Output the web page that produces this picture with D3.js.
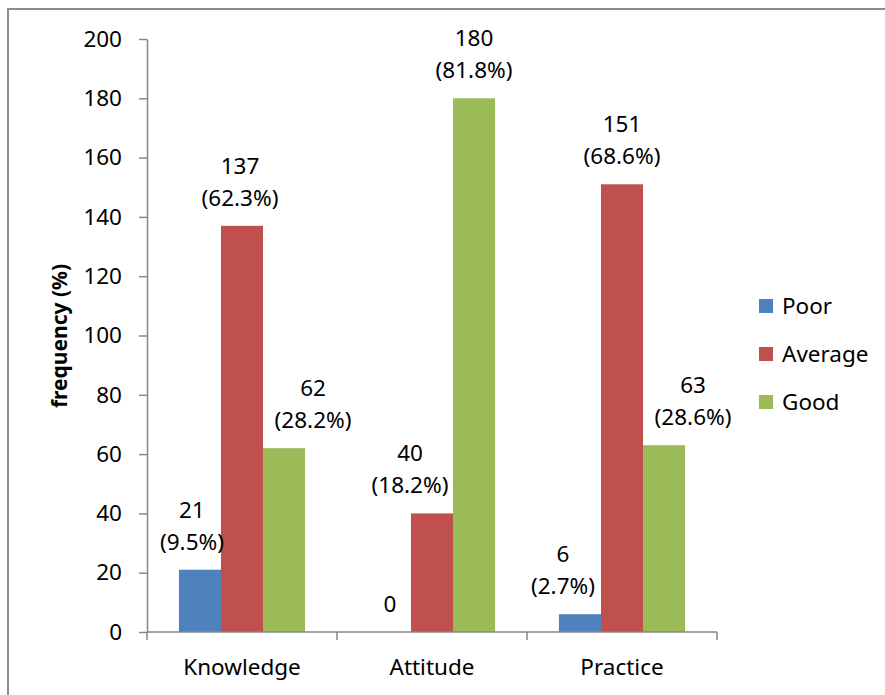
<!DOCTYPE html>
<html>
<head>
<meta charset="utf-8">
<script src="https://cdn.jsdelivr.net/npm/d3@7"></script>
<style>
  body { margin: 0; background: #fff; }
  text { font-family: "Noto Sans", "Open Sans", sans-serif; }
</style>
</head>
<body>
<div id="viz"></div>
<script>
const categories = ["Knowledge", "Attitude", "Practice"]
const series = ["Poor", "Average", "Good"]
const poor = [21, 0, 6]
const average = [137, 40, 151]
const good = [62, 180, 63]
const poorPct = ["9.5%", "", "2.7%"]
const averagePct = ["62.3%", "18.2%", "68.6%"]
const goodPct = ["28.2%", "81.8%", "28.6%"]
const yTicks = [0, 20, 40, 60, 80, 100, 120, 140, 160, 180, 200]

const colors = ["#4f81bd", "#c0504d", "#9bbb59"]
const values = [poor, average, good]
const pcts = [poorPct, averagePct, goodPct]
// horizontal nudges of the data labels (as placed in the original), per series
const labelDx = [[-8, 0, -17], [-2, -22, 0], [29, 0, 29]]
const fs = 22.5

const svg = d3.select("#viz").append("svg").attr("width", 885).attr("height", 695)

// outer frame (only top and left visible)
svg.append("path")
  .attr("d", "M8,700 L8,9 L890,9")
  .attr("fill", "none")
  .attr("stroke", "#8c8c8c")
  .attr("stroke-width", 2)

const x0 = d3.scaleBand().domain(categories).range([147, 717])
const x1 = d3.scaleBand().domain(series).range([0, x0.bandwidth()]).paddingOuter(0.76)
const y = d3.scaleLinear().domain([0, 200]).range([632, 39])

// bars
const rows = []
categories.forEach((c, i) => {
  series.forEach((s, j) => {
    rows.push({cat: c, s: s, j: j, v: values[j][i], pct: pcts[j][i], dx: labelDx[j][i]})
  })
})

svg.selectAll(".bar")
  .data(rows)
  .enter()
  .append("rect")
  .attr("class", "bar")
  .attr("x", d => x0(d.cat) + x1(d.s))
  .attr("y", d => y(d.v))
  .attr("width", x1.bandwidth())
  .attr("height", d => y(0) - y(d.v))
  .attr("fill", d => colors[d.j])

// y axis
const yAxis = svg.append("g")
  .attr("transform", "translate(147,0)")
  .call(d3.axisLeft(y).tickValues(yTicks).tickSize(8).tickPadding(17).tickSizeOuter(0))
yAxis.select(".domain").attr("stroke", "#868686").attr("stroke-width", 1.5)
yAxis.selectAll(".tick line").attr("stroke", "#868686").attr("stroke-width", 1.5)
yAxis.selectAll(".tick text").attr("font-size", fs).attr("fill", "#000")
  .attr("font-family", "Noto Sans")

// x axis
const xAxisLine = svg.append("g")
xAxisLine.append("line")
  .attr("x1", 147).attr("x2", 717)
  .attr("y1", y(0)).attr("y2", y(0))
  .attr("stroke", "#868686").attr("stroke-width", 1.5)
xAxisLine.selectAll(".xt")
  .data(categories.map(c => x0(c)).concat([717]))
  .enter()
  .append("line")
  .attr("x1", d => d).attr("x2", d => d)
  .attr("y1", y(0)).attr("y2", y(0) + 8)
  .attr("stroke", "#868686").attr("stroke-width", 1.5)

svg.selectAll(".xlabel")
  .data(categories)
  .enter()
  .append("text")
  .attr("x", d => x0(d) + x0.bandwidth() / 2)
  .attr("y", 675)
  .attr("text-anchor", "middle")
  .attr("font-size", fs)
  .text(d => d)

// value labels
const lab = svg.selectAll(".lab")
  .data(rows)
  .enter()
  .append("g")
  .attr("transform", d => `translate(${x0(d.cat) + x1(d.s) + x1.bandwidth() / 2 + d.dx},${y(d.v) - 20})`)

lab.append("text")
  .attr("text-anchor", "middle")
  .attr("font-size", fs)
  .attr("y", d => d.pct ? -32 : 0)
  .text(d => d.v)

lab.filter(d => d.pct).append("text")
  .attr("text-anchor", "middle")
  .attr("font-size", fs)
  .text(d => `(${d.pct})`)

// y label
svg.append("text")
  .attr("transform", "translate(67,336) rotate(-90)")
  .attr("text-anchor", "middle")
  .attr("font-size", 21)
  .attr("font-weight", "bold")
  .text("frequency (%)")

// legend
const leg = svg.selectAll(".leg")
  .data(series)
  .enter()
  .append("g")
  .attr("transform", (d, i) => `translate(759,${306 + i * 48})`)
leg.append("rect")
  .attr("x", 0).attr("y", -7)
  .attr("width", 14).attr("height", 14)
  .attr("fill", (d, i) => colors[i])
leg.append("text")
  .attr("x", 23).attr("y", 8)
  .attr("font-size", fs)
  .text(d => d)
</script>
</body>
</html>
